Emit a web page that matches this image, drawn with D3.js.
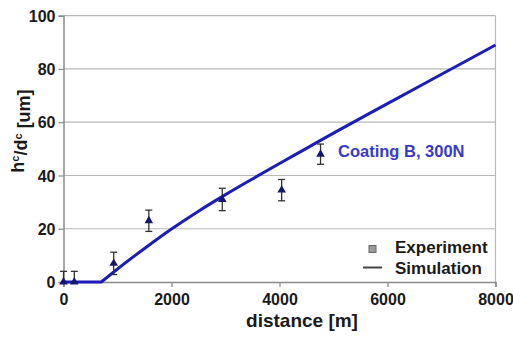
<!DOCTYPE html>
<html><head><meta charset="utf-8">
<script src="https://cdn.jsdelivr.net/npm/d3@7"></script>
<style>body{margin:0;background:#fff}svg{display:block}text{font-family:"Liberation Sans",Arial,sans-serif;font-weight:bold}</style>
</head><body><svg id="c" width="513" height="338"></svg>
<script>
const expX = [0, 200, 930, 1580, 2940, 4040, 4760];
const expY = [0, 0, 7, 23, 31, 34.5, 48];
const expErr = [4, 4, 4.2, 4, 4.2, 4, 3.8];
const simX = [0, 700, 1000, 1500, 2000, 2500, 3000, 3500, 4000, 4500, 5000, 6000, 7000, 8000];
const simY = [0, 0, 4.9, 12.6, 19.9, 26.6, 32.8, 38.7, 44.5, 50.2, 55.9, 67, 78, 89];
const xTicks = [0, 2000, 4000, 6000, 8000];
const yTicks = [0, 20, 40, 60, 80, 100];

const svg = d3.select("#c");
const x = d3.scaleLinear().domain([0, 8000]).range([63.5, 495.5]);
const y = d3.scaleLinear().domain([0, 100]).range([282, 15.7]);

// grid
svg.append("g").selectAll("line").data(yTicks.filter(d => d > 0)).join("line")
  .attr("x1", x(0)).attr("x2", x(8000)).attr("y1", d => y(d)).attr("y2", d => y(d))
  .attr("stroke", "#b8b8b8").attr("stroke-width", 1.2);
svg.append("line").attr("x1", x(8000)).attr("x2", x(8000)).attr("y1", y(100)).attr("y2", y(0))
  .attr("stroke", "#b8b8b8").attr("stroke-width", 1.2);

// axes
const ya = svg.append("g").attr("transform", `translate(${x(0)},0)`)
  .call(d3.axisLeft(y).tickValues(yTicks).tickFormat(d3.format("d")).tickSize(5).tickPadding(3));
const xa = svg.append("g").attr("transform", `translate(0,${y(0)})`)
  .call(d3.axisBottom(x).tickValues(xTicks).tickFormat(d3.format("d")).tickSize(5).tickPadding(3));
[ya, xa].forEach(a => {
  a.select(".domain").attr("stroke", "#8a8a8a").attr("stroke-width", 1.5);
  a.selectAll(".tick line").attr("stroke", "#8a8a8a").attr("stroke-width", 1.2);
  a.selectAll("text").attr("fill", "#1a1a1a").style("font-size", "16px")
    .style("font-family", "Liberation Sans, Arial, sans-serif").style("font-weight", "bold");
});
ya.selectAll("text").attr("dy", "0.36em");
xa.selectAll("text").attr("dy", "0.95em");

// simulation line: flat part then smooth rise
const simPts = simX.map((d, i) => [d, simY[i]]);
const kink = simX.indexOf(700);
const ln = d3.line().x(d => x(d[0])).y(d => y(d[1]));
const lc = d3.line().x(d => x(d[0])).y(d => y(d[1])).curve(d3.curveMonotoneX);
svg.append("path")
  .attr("d", ln(simPts.slice(0, kink + 1)) + lc(simPts.slice(kink)).replace(/^M/, "L"))
  .attr("fill", "none").attr("stroke", "#1c1cb8").attr("stroke-width", 3).attr("stroke-linejoin", "round");

// experiment error bars + triangles
const pts = expX.map((d, i) => ({x: d, y: expY[i], e: expErr[i]}));
const eg = svg.append("g").attr("stroke", "#333").attr("stroke-width", 1.3);
pts.forEach(p => {
  const lo = Math.max(0, p.y - p.e), hi = p.y + p.e;
  eg.append("line").attr("x1", x(p.x)).attr("x2", x(p.x)).attr("y1", y(lo)).attr("y2", y(hi));
  eg.append("line").attr("x1", x(p.x) - 3.5).attr("x2", x(p.x) + 3.5).attr("y1", y(hi)).attr("y2", y(hi));
  if (p.y - p.e > 0) eg.append("line").attr("x1", x(p.x) - 3.5).attr("x2", x(p.x) + 3.5).attr("y1", y(lo)).attr("y2", y(lo));
});
svg.append("g").selectAll("path").data(pts).join("path")
  .attr("d", d3.symbol(d3.symbolTriangle, 32))
  .attr("transform", d => `translate(${x(d.x)},${y(d.y)})`)
  .attr("fill", "#16166e");

// annotation
svg.append("text").attr("x", 338).attr("y", 157).attr("fill", "#3a3ac8").style("font-size", "16.5px").text("Coating B, 300N");

// legend
svg.append("rect").attr("x", 369).attr("y", 245.5).attr("width", 7).attr("height", 7)
  .attr("fill", "#9a9a9a").attr("stroke", "#666").attr("stroke-width", 1);
svg.append("line").attr("x1", 363).attr("x2", 382).attr("y1", 267.5).attr("y2", 267.5)
  .attr("stroke", "#444").attr("stroke-width", 2);
svg.append("text").attr("x", 395).attr("y", 253).attr("fill", "#1a1a1a").style("font-size", "17px").text("Experiment");
svg.append("text").attr("x", 395).attr("y", 274).attr("fill", "#1a1a1a").style("font-size", "17px").text("Simulation");

// axis titles
svg.append("text").attr("x", 302).attr("y", 327).attr("text-anchor", "middle").attr("fill", "#1a1a1a")
  .style("font-size", "19px").text("distance [m]");
const yt = svg.append("text").attr("transform", "translate(24,131) rotate(-90)").attr("text-anchor", "middle")
  .attr("fill", "#1a1a1a").style("font-size", "18px");
yt.append("tspan").text("h");
yt.append("tspan").attr("dy", "-0.45em").style("font-size", "11px").text("c");
yt.append("tspan").attr("dy", "0.45em").text("/d");
yt.append("tspan").attr("dy", "-0.45em").style("font-size", "11px").text("c");
yt.append("tspan").attr("dy", "0.45em").text(" [um]");
</script></body></html>
